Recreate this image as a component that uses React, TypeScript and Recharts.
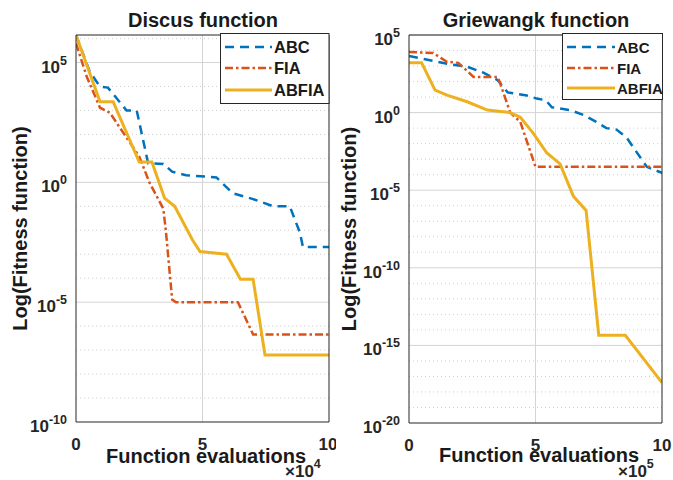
import React from 'react';
import { LineChart, Line, XAxis, YAxis, ReferenceLine } from 'recharts';

const FONT = '"Liberation Sans", Arial, Helvetica, sans-serif';
const AXIS_COLOR = '#262626';

const seriesNames = ['ABC', 'FIA', 'ABFIA'];
const seriesColors = ['#0072BD', '#D95319', '#EDB120'];
const seriesDash = ['9 6', '8 3 2.5 3', undefined];
const seriesWidth = [2.5, 2.5, 3];

const xTicks = [0, 5, 10];

// Discus function, x in units of 1e4 evaluations
const discusAbcX = [0, 0.55, 0.95, 1.26, 2.0, 2.4, 2.85, 3.45, 3.8, 4.35, 5.55, 6.2, 7.0, 7.8, 8.45, 8.85, 8.97, 10];
const discusAbcY = [1.4e6, 4e4, 1e4, 9e3, 1e3, 1e3, 6.3, 5.9, 2.8, 2, 1.6, 0.35, 0.2, 0.1, 0.1, 8e-3, 2e-3, 2e-3];
const discusFiaX = [0, 0.43, 0.95, 1.34, 2.5, 2.9, 3.45, 3.55, 3.8, 3.95, 6.4, 7.0, 10];
const discusFiaY = [6.3e5, 2.5e4, 1.3e3, 800, 12, 1, 0.08, 1e-2, 1.3e-5, 1e-5, 1e-5, 4.5e-7, 4.5e-7];
const discusAbfiaX = [0, 0.95, 1.47, 2.5, 3.0, 3.5, 3.9, 4.6, 4.9, 5.95, 6.5, 7.0, 7.47, 10];
const discusAbfiaY = [1.4e6, 2.3e3, 2.3e3, 7, 7, 0.22, 0.1, 4e-3, 1.3e-3, 1e-3, 9e-5, 9e-5, 6.3e-8, 6.3e-8];
const discusYTicks = [1e-10, 1e-5, 1, 1e5];

// Griewangk function, x in units of 1e5 evaluations
const grieAbcX = [0, 0.43, 1.6, 2.3, 2.9, 3.5, 3.9, 4.66, 5.05, 5.4, 5.65, 6.37, 6.9, 7.4, 7.8, 8.2, 8.6, 8.85, 9.4, 10];
const grieAbcY = [4.5e3, 3.2e3, 1.3e3, 900, 400, 125, 20, 12.6, 8, 6.3, 2.2, 1.45, 0.7, 0.25, 0.1, 0.08, 0.025, 6.3e-3, 3.2e-4, 1.3e-4];
const grieFiaX = [0, 0.95, 1.5, 1.95, 2.55, 3.5, 3.6, 4.0, 4.4, 5.0, 10];
const grieFiaY = [8e3, 7e3, 1.9e3, 1.6e3, 200, 200, 80, 1, 0.25, 3.2e-4, 3.2e-4];
const grieAbfiaX = [0, 0.5, 1.03, 1.5, 2.3, 3.1, 4.0, 4.4, 4.9, 5.45, 5.97, 6.5, 7.0, 7.5, 8.55, 10];
const grieAbfiaY = [1.6e3, 1.6e3, 28, 13.5, 5, 1.45, 1, 0.5, 0.05, 2.5e-3, 5e-4, 4e-6, 5e-7, 4.5e-15, 4.5e-15, 4e-18];
const grieYTicks = [1e-20, 1e-15, 1e-10, 1e-5, 1, 1e5];

const toPoints = (xs: number[], ys: number[]) => xs.map((x, i) => ({ x, y: ys[i] }));

const XTick = (props: any) => {
  const { x, y, payload } = props;
  return (
    <text x={x} y={y + 28} textAnchor="middle" fontFamily={FONT} fontWeight="bold" fontSize={17} fill={AXIS_COLOR}>
      {payload.value}
    </text>
  );
};

const YTick = (props: any) => {
  const { x, y, payload } = props;
  const exp = Math.round(Math.log10(payload.value));
  return (
    <text x={x} y={y + 10} textAnchor="end" fontFamily={FONT} fontWeight="bold" fontSize={17} fill={AXIS_COLOR}>
      <tspan>10</tspan>
      <tspan dy={-8} fontSize={12.5}>{exp}</tspan>
    </text>
  );
};

interface PanelProps {
  left: number;
  width: number;
  yAxisWidth: number;
  marginRight: number;
  xAxisHeight: number;
  yDomain: [number, number];
  yTicks: number[];
  series: { x: number; y: number }[][];
  title: string;
  titleX: number;
  xLabelX: number;
  xLabelY: number;
  yLabelX: number;
  scaleX: number;
  scaleExp: number;
  legend: { x: number; y: number; w: number; h: number; rows: number[]; lineX: [number, number]; textX: number; fontSize: number };
}

const Panel: React.FC<PanelProps> = (p) => {
  const height = 480;
  const lo = Math.ceil(Math.log10(p.yDomain[0]));
  const hi = Math.floor(Math.log10(p.yDomain[1]));
  const decades: number[] = [];
  for (let k = lo + 1; k <= hi; k++) decades.push(k);
  const plotMid = (35 + (height - p.xAxisHeight)) / 2;
  const bold = { fontFamily: FONT, fontWeight: 'bold' as const, fill: '#1a1a1a' };

  return (
    <div style={{ position: 'absolute', left: p.left, top: 0, width: p.width, height }}>
      <LineChart width={p.width} height={height} margin={{ top: 35, right: p.marginRight, bottom: 0, left: 0 }}>
        {decades.map((k) => (
          <ReferenceLine
            key={k}
            y={Math.pow(10, k)}
            stroke={k % 5 === 0 ? '#d4d4d4' : '#cfcfcf'}
            strokeDasharray={k % 5 === 0 ? undefined : '1 3'}
            strokeWidth={1}
          />
        ))}
        <ReferenceLine x={5} stroke="#d4d4d4" strokeWidth={1} />
        <XAxis
          type="number"
          dataKey="x"
          domain={[0, 10]}
          ticks={xTicks}
          allowDataOverflow
          height={p.xAxisHeight}
          tickSize={0}
          tickMargin={0}
          tick={<XTick />}
          stroke={AXIS_COLOR}
        />
        <YAxis
          type="number"
          dataKey="y"
          scale="log"
          domain={p.yDomain}
          ticks={p.yTicks}
          allowDataOverflow
          width={p.yAxisWidth}
          tickSize={0}
          tickMargin={9}
          tick={<YTick />}
          stroke={AXIS_COLOR}
        />
        {p.series.map((pts, i) => (
          <Line
            key={seriesNames[i]}
            data={pts}
            dataKey="y"
            type="linear"
            stroke={seriesColors[i]}
            strokeWidth={seriesWidth[i]}
            strokeDasharray={seriesDash[i]}
            dot={false}
            activeDot={false}
            isAnimationActive={false}
          />
        ))}
        <ReferenceLine x={10} stroke={AXIS_COLOR} strokeWidth={1} ifOverflow="visible" />
        <ReferenceLine y={p.yDomain[1]} stroke={AXIS_COLOR} strokeWidth={1} ifOverflow="visible" />
      </LineChart>
      <svg width={p.width} height={height} style={{ position: 'absolute', left: 0, top: 0, pointerEvents: 'none' }}>
        <text x={p.titleX} y={27} textAnchor="middle" fontSize={20} {...bold}>{p.title}</text>
        <text x={p.xLabelX} y={p.xLabelY} textAnchor="middle" fontSize={20} {...bold}>Function evaluations</text>
        <text
          x={p.yLabelX}
          y={plotMid}
          textAnchor="middle"
          fontSize={20}
          transform={`rotate(-90 ${p.yLabelX} ${plotMid})`}
          {...bold}
        >
          Log(Fitness function)
        </text>
        <text x={p.scaleX} y={477} fontSize={17} {...bold} fill={AXIS_COLOR}>
          <tspan>×10</tspan>
          <tspan dy={-9} fontSize={12.5}>{p.scaleExp}</tspan>
        </text>
        <rect x={p.legend.x} y={p.legend.y} width={p.legend.w} height={p.legend.h} fill="#fff" stroke={AXIS_COLOR} strokeWidth={1} />
        {seriesNames.map((name, i) => (
          <g key={name}>
            <line
              x1={p.legend.lineX[0]}
              x2={p.legend.lineX[1]}
              y1={p.legend.rows[i]}
              y2={p.legend.rows[i]}
              stroke={seriesColors[i]}
              strokeWidth={seriesWidth[i]}
              strokeDasharray={seriesDash[i]}
            />
            <text x={p.legend.textX} y={p.legend.rows[i] + 6} fontSize={p.legend.fontSize} {...bold}>{name}</text>
          </g>
        ))}
      </svg>
    </div>
  );
};

export default function App() {
  return (
    <div style={{ position: 'absolute', left: 0, top: 0, width: 673, height: 480, background: '#fff', overflow: 'hidden' }}>
      <Panel
        left={0}
        width={336}
        yAxisWidth={76}
        marginRight={7}
        xAxisHeight={58}
        yDomain={[1e-10, 1.41e6]}
        yTicks={discusYTicks}
        series={[toPoints(discusAbcX, discusAbcY), toPoints(discusFiaX, discusFiaY), toPoints(discusAbfiaX, discusAbfiaY)]}
        title="Discus function"
        titleX={203}
        xLabelX={206}
        xLabelY={463}
        yLabelX={27}
        scaleX={285}
        scaleExp={4}
        legend={{ x: 220.5, y: 33.5, w: 108.5, h: 70, rows: [47, 68, 90], lineX: [225, 272], textX: 274, fontSize: 16.5 }}
      />
      <Panel
        left={336}
        width={337}
        yAxisWidth={73}
        marginRight={11}
        xAxisHeight={57}
        yDomain={[1e-20, 1e5]}
        yTicks={grieYTicks}
        series={[toPoints(grieAbcX, grieAbcY), toPoints(grieFiaX, grieFiaY), toPoints(grieAbfiaX, grieAbfiaY)]}
        title="Griewangk function"
        titleX={200}
        xLabelX={203}
        xLabelY={462}
        yLabelX={20}
        scaleX={282}
        scaleExp={5}
        legend={{ x: 226.5, y: 33.5, w: 100, h: 66, rows: [47, 68, 88], lineX: [231, 279], textX: 281, fontSize: 15 }}
      />
    </div>
  );
}
